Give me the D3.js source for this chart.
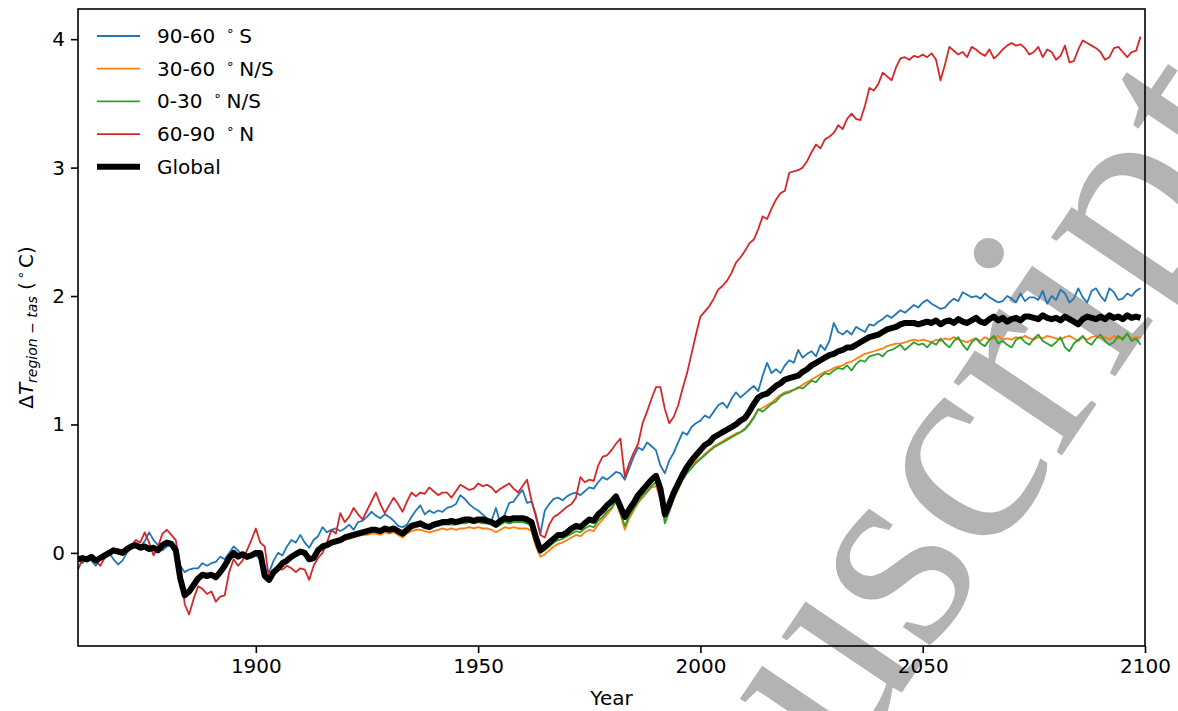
<!DOCTYPE html>
<html><head><meta charset="utf-8">
<script src="https://cdn.jsdelivr.net/npm/d3@7"></script>
<style>body{margin:0;background:#fff}</style>
</head><body><svg id="c" width="1178" height="711"></svg>
<script>
const startYear = 1860;
const seriesNames = ["90-60 °S", "30-60 °N/S", "0-30 °N/S", "60-90 °N", "Global"];
const legendMain = ["90-60", "30-60", "0-30", "60-90", "Global"];
const legendSuffix = ["S", "N/S", "N/S", "N", ""];
const xTicks = [1900, 1950, 2000, 2050, 2100];
const yTicks = [0, 1, 2, 3, 4];

const south = [
-0.05,-0.08,-0.04,-0.06,-0.10,-0.05,-0.02,0.00,-0.05,-0.09,
-0.06,0.00,0.04,0.07,0.05,0.09,0.16,0.10,0.06,0.02,
0.05,0.06,0.00,-0.10,-0.15,-0.13,-0.12,-0.12,-0.08,-0.10,
-0.08,-0.07,-0.03,-0.05,0.00,0.05,0.02,-0.03,-0.05,-0.02,
-0.02,-0.05,-0.12,-0.15,-0.06,0.00,-0.02,0.05,0.10,0.08,
0.14,0.08,0.04,0.10,0.13,0.20,0.16,0.18,0.19,0.17,
0.19,0.22,0.18,0.24,0.25,0.28,0.32,0.29,0.27,0.30,
0.28,0.25,0.21,0.20,0.22,0.28,0.33,0.37,0.30,0.33,
0.31,0.33,0.32,0.35,0.36,0.38,0.45,0.42,0.38,0.35,
0.33,0.30,0.27,0.25,0.35,0.23,0.30,0.39,0.40,0.45,
0.49,0.39,0.40,0.30,0.15,0.33,0.38,0.42,0.43,0.41,
0.44,0.46,0.47,0.45,0.48,0.51,0.50,0.55,0.59,0.57,
0.60,0.63,0.62,0.57,0.66,0.75,0.82,0.80,0.86,0.83,
0.80,0.68,0.62,0.72,0.78,0.86,0.94,0.92,0.98,1.01,
1.03,1.07,1.05,1.10,1.15,1.17,1.13,1.20,1.25,1.21,
1.24,1.27,1.30,1.26,1.38,1.48,1.40,1.43,1.40,1.46,
1.50,1.48,1.58,1.52,1.55,1.57,1.53,1.62,1.58,1.65,
1.79,1.72,1.70,1.73,1.70,1.76,1.74,1.72,1.78,1.77,
1.80,1.82,1.85,1.83,1.86,1.89,1.87,1.90,1.93,1.91,
1.95,1.97,1.94,1.92,1.90,1.91,1.95,1.98,1.96,2.03,
2.01,1.99,2.00,1.98,2.02,1.99,1.97,1.95,1.96,2.00,
1.98,1.95,2.02,1.96,1.99,1.99,1.97,2.04,1.94,2.00,
1.97,2.05,2.02,1.95,1.98,2.06,1.99,1.95,2.04,2.06,
2.00,1.96,2.06,2.03,1.97,1.98,2.02,2.00,2.04,2.06];

const midLat = [
-0.06,-0.05,-0.07,-0.04,-0.06,-0.05,-0.03,-0.01,0.01,0.00,
0.00,0.02,0.04,0.05,0.04,0.05,0.03,0.04,0.03,0.05,
0.07,0.06,0.01,-0.20,-0.32,-0.29,-0.24,-0.19,-0.17,-0.18,
-0.17,-0.18,-0.15,-0.10,-0.05,-0.01,-0.03,-0.02,-0.03,-0.02,
-0.01,-0.01,-0.18,-0.22,-0.16,-0.12,-0.09,-0.07,-0.04,-0.02,
0.00,-0.01,-0.06,-0.05,0.01,0.04,0.05,0.07,0.08,0.09,
0.10,0.11,0.12,0.13,0.14,0.14,0.15,0.15,0.14,0.16,
0.15,0.16,0.14,0.12,0.15,0.17,0.18,0.18,0.17,0.16,
0.17,0.18,0.19,0.18,0.19,0.18,0.19,0.19,0.20,0.19,
0.20,0.19,0.19,0.18,0.16,0.18,0.20,0.19,0.20,0.19,
0.19,0.19,0.17,0.05,-0.03,-0.01,0.02,0.05,0.07,0.08,
0.10,0.12,0.14,0.13,0.16,0.18,0.17,0.22,0.26,0.30,
0.34,0.40,0.30,0.18,0.27,0.33,0.39,0.43,0.47,0.51,
0.52,0.42,0.26,0.33,0.42,0.49,0.57,0.63,0.68,0.71,
0.74,0.77,0.80,0.83,0.85,0.87,0.89,0.91,0.93,0.94,
0.97,1.01,1.06,1.11,1.13,1.15,1.17,1.20,1.23,1.25,
1.26,1.27,1.28,1.31,1.33,1.35,1.37,1.39,1.41,1.42,
1.44,1.45,1.46,1.48,1.49,1.51,1.53,1.55,1.56,1.57,
1.58,1.59,1.61,1.62,1.63,1.63,1.64,1.65,1.66,1.65,
1.66,1.65,1.64,1.66,1.65,1.67,1.66,1.68,1.66,1.65,
1.64,1.66,1.67,1.65,1.68,1.66,1.67,1.69,1.66,1.67,
1.66,1.68,1.67,1.69,1.67,1.66,1.68,1.67,1.69,1.68,
1.67,1.66,1.68,1.69,1.67,1.65,1.68,1.66,1.68,1.69,
1.67,1.68,1.66,1.69,1.67,1.68,1.70,1.67,1.68,1.68];

const tropics = [
-0.05,-0.05,-0.06,-0.04,-0.05,-0.04,-0.03,0.00,0.01,0.01,
0.01,0.03,0.04,0.05,0.05,0.05,0.04,0.04,0.03,0.05,
0.07,0.06,0.02,-0.19,-0.31,-0.29,-0.24,-0.19,-0.17,-0.17,
-0.16,-0.18,-0.14,-0.10,-0.05,0.00,-0.02,-0.01,-0.02,-0.01,
0.00,0.00,-0.17,-0.21,-0.15,-0.11,-0.08,-0.06,-0.03,-0.01,
0.01,0.00,-0.05,-0.04,0.02,0.05,0.06,0.08,0.09,0.10,
0.11,0.12,0.13,0.14,0.15,0.16,0.17,0.17,0.16,0.18,
0.17,0.18,0.16,0.14,0.17,0.19,0.20,0.21,0.20,0.19,
0.20,0.21,0.22,0.22,0.22,0.22,0.23,0.23,0.24,0.23,
0.24,0.23,0.23,0.22,0.20,0.22,0.24,0.23,0.24,0.24,
0.24,0.23,0.21,0.09,0.00,0.02,0.05,0.08,0.10,0.11,
0.13,0.15,0.17,0.16,0.19,0.21,0.20,0.25,0.28,0.32,
0.35,0.40,0.31,0.21,0.29,0.35,0.40,0.45,0.48,0.52,
0.55,0.45,0.23,0.32,0.42,0.50,0.57,0.62,0.66,0.70,
0.73,0.76,0.79,0.82,0.84,0.86,0.88,0.90,0.92,0.94,
0.96,1.00,1.05,1.12,1.10,1.13,1.16,1.18,1.22,1.24,
1.25,1.27,1.29,1.28,1.31,1.34,1.33,1.37,1.40,1.39,
1.42,1.44,1.43,1.46,1.42,1.47,1.50,1.49,1.53,1.54,
1.55,1.53,1.57,1.58,1.60,1.62,1.58,1.61,1.64,1.62,
1.63,1.60,1.64,1.62,1.67,1.63,1.60,1.65,1.68,1.62,
1.58,1.64,1.67,1.63,1.61,1.66,1.69,1.63,1.65,1.62,
1.60,1.66,1.68,1.64,1.62,1.67,1.70,1.65,1.63,1.61,
1.64,1.68,1.60,1.57,1.63,1.66,1.69,1.64,1.62,1.67,
1.70,1.65,1.62,1.64,1.69,1.66,1.71,1.65,1.67,1.62];

const arctic = [
-0.13,-0.05,-0.04,-0.03,-0.06,-0.10,-0.04,-0.02,0.01,0.03,
0.02,0.04,0.06,0.10,0.08,0.16,0.08,-0.02,0.05,0.15,
0.18,0.14,0.10,-0.10,-0.40,-0.48,-0.36,-0.26,-0.28,-0.32,
-0.30,-0.38,-0.34,-0.33,-0.15,-0.05,-0.10,-0.06,0.02,0.10,
0.19,0.08,0.05,-0.22,-0.15,-0.12,-0.13,-0.10,-0.12,-0.15,
-0.12,-0.13,-0.21,-0.10,-0.04,0.00,0.08,0.18,0.15,0.31,
0.24,0.28,0.35,0.30,0.26,0.33,0.40,0.47,0.38,0.31,
0.37,0.43,0.38,0.32,0.40,0.47,0.44,0.47,0.46,0.51,
0.48,0.45,0.47,0.47,0.43,0.48,0.53,0.51,0.49,0.50,
0.54,0.52,0.53,0.51,0.47,0.50,0.52,0.54,0.50,0.47,
0.52,0.57,0.41,0.28,0.14,0.12,0.22,0.28,0.30,0.33,
0.36,0.38,0.43,0.59,0.55,0.57,0.56,0.68,0.75,0.76,
0.80,0.85,0.89,0.59,0.70,0.78,0.85,1.01,1.10,1.20,
1.29,1.29,1.12,1.01,1.06,1.15,1.28,1.40,1.55,1.70,
1.84,1.88,1.92,1.98,2.05,2.08,2.12,2.18,2.26,2.30,
2.35,2.41,2.44,2.52,2.62,2.60,2.68,2.75,2.80,2.82,
2.96,2.97,2.98,3.00,3.05,3.12,3.18,3.15,3.22,3.24,
3.27,3.33,3.30,3.38,3.42,3.38,3.37,3.48,3.62,3.60,
3.65,3.74,3.71,3.68,3.78,3.85,3.86,3.84,3.87,3.86,
3.88,3.86,3.89,3.84,3.68,3.80,3.94,3.91,3.88,3.90,
3.86,3.94,3.92,3.89,3.87,3.92,3.85,3.88,3.92,3.95,
3.97,3.95,3.96,3.93,3.88,3.90,3.94,3.86,3.92,3.90,
3.84,3.87,3.95,3.82,3.83,3.92,3.99,3.97,3.95,3.93,
3.90,3.84,3.86,3.93,3.94,3.90,3.86,3.90,3.91,4.02];

const globalMean = [
-0.05,-0.04,-0.05,-0.03,-0.06,-0.04,-0.02,0.00,0.02,0.01,
0.00,0.03,0.05,0.06,0.04,0.05,0.03,0.04,0.02,0.06,
0.08,0.07,0.02,-0.20,-0.33,-0.30,-0.25,-0.20,-0.17,-0.18,
-0.17,-0.19,-0.15,-0.10,-0.04,0.00,-0.03,-0.01,-0.03,-0.02,
0.00,0.00,-0.18,-0.21,-0.15,-0.12,-0.08,-0.06,-0.03,-0.01,
0.01,0.00,-0.05,-0.04,0.02,0.05,0.06,0.08,0.09,0.10,
0.12,0.13,0.14,0.15,0.16,0.17,0.18,0.18,0.17,0.19,
0.18,0.19,0.17,0.15,0.18,0.21,0.22,0.23,0.21,0.20,
0.22,0.23,0.24,0.24,0.25,0.24,0.25,0.26,0.26,0.25,
0.26,0.26,0.25,0.24,0.22,0.25,0.27,0.26,0.27,0.27,
0.27,0.26,0.24,0.12,0.02,0.05,0.08,0.11,0.14,0.14,
0.16,0.19,0.21,0.20,0.23,0.26,0.25,0.30,0.33,0.37,
0.40,0.44,0.36,0.28,0.34,0.39,0.45,0.49,0.53,0.57,
0.60,0.50,0.30,0.38,0.47,0.54,0.61,0.67,0.72,0.76,
0.80,0.84,0.86,0.90,0.92,0.94,0.96,0.98,1.00,1.03,
1.05,1.10,1.16,1.21,1.23,1.24,1.27,1.30,1.32,1.35,
1.36,1.37,1.38,1.41,1.43,1.46,1.48,1.50,1.52,1.54,
1.55,1.57,1.58,1.60,1.60,1.62,1.64,1.66,1.68,1.69,
1.70,1.72,1.74,1.75,1.76,1.78,1.79,1.79,1.79,1.78,
1.79,1.80,1.79,1.81,1.78,1.80,1.81,1.79,1.82,1.80,
1.79,1.81,1.83,1.80,1.79,1.82,1.84,1.81,1.83,1.80,
1.82,1.83,1.81,1.84,1.84,1.83,1.82,1.85,1.83,1.82,
1.83,1.81,1.84,1.82,1.80,1.78,1.82,1.84,1.83,1.82,
1.84,1.82,1.85,1.83,1.84,1.82,1.85,1.83,1.84,1.83];

const allSeries = [south, midLat, tropics, arctic, globalMean];
const colors = ["#1f77b4", "#ff7f0e", "#2ca02c", "#d62728", "#000000"];
const widths = [1.8, 1.8, 1.8, 1.8, 6];

const svg = d3.select("#c");
const L = 78, R = 1145, T = 9, B = 646;
const x = d3.scaleLinear().domain([1860, 2100]).range([L, R]);
const y = d3.scaleLinear().domain([-0.725, 4.235]).range([B, T]);
const FONT = "DejaVu Sans, sans-serif";

svg.append("rect").attr("width", 1178).attr("height", 711).attr("fill", "#fff");

// watermark (beneath the data)
svg.append("text")
  .attr("transform", "translate(1280,132) rotate(-56)")
  .attr("text-anchor", "end")
  .attr("font-family", "Liberation Serif, serif")
  .attr("font-size", 285)
  .attr("fill", "#b3b3b3")
  .text("Accepted Manuscript");

svg.append("clipPath").attr("id", "clip").append("rect")
  .attr("x", L).attr("y", T).attr("width", R - L).attr("height", B - T);

const line = d3.line().x((d, i) => x(startYear + i)).y(d => y(d)).curve(d3.curveLinear);
const g = svg.append("g").attr("clip-path", "url(#clip)");
allSeries.forEach((s, k) => {
  g.append("path").datum(s).attr("d", line)
    .attr("fill", "none").attr("stroke", colors[k]).attr("stroke-width", widths[k])
    .attr("stroke-linejoin", "round").attr("stroke-linecap", "butt");
});

// axes
const xAxis = svg.append("g").attr("transform", `translate(0,${B})`)
  .call(d3.axisBottom(x).tickValues(xTicks).tickFormat(d3.format("d")).tickSize(7).tickPadding(6));
const yAxis = svg.append("g").attr("transform", `translate(${L},0)`)
  .call(d3.axisLeft(y).tickValues(yTicks).tickFormat(d3.format("d")).tickSize(7).tickPadding(6));
[xAxis, yAxis].forEach(a => {
  a.select(".domain").remove();
  a.selectAll(".tick line").attr("stroke", "#000").attr("stroke-width", 1.6);
  a.selectAll(".tick text").attr("font-family", FONT).attr("font-size", 20).attr("fill", "#000");
});

svg.append("rect").attr("x", L).attr("y", T).attr("width", R - L).attr("height", B - T)
  .attr("fill", "none").attr("stroke", "#000").attr("stroke-width", 1.6);

// axis labels
svg.append("text").attr("x", (L + R) / 2).attr("y", 705).attr("text-anchor", "middle")
  .attr("font-family", FONT).attr("font-size", 20).attr("fill", "#000").text("Year");

const yl = svg.append("text").attr("transform", `translate(33,${(T + B) / 2}) rotate(-90)`)
  .attr("text-anchor", "middle").attr("font-family", FONT).attr("font-size", 20).attr("fill", "#000");
yl.append("tspan").text("Δ");
yl.append("tspan").attr("font-style", "italic").text("T");
yl.append("tspan").attr("font-style", "italic").attr("font-size", 14).attr("dy", 4).text("region");
yl.append("tspan").attr("font-size", 14).text(" − ");
yl.append("tspan").attr("font-style", "italic").attr("font-size", 14).text("tas");
yl.append("tspan").attr("dy", -4).text(" (");
yl.append("tspan").attr("font-size", 13).attr("dy", -8).attr("dx", 3).text("∘");
yl.append("tspan").attr("dy", 8).attr("dx", 3).text("C)");

// legend
const lg = svg.append("g");
seriesNames.forEach((nm, i) => {
  const cy = 36 + i * 32.7;
  lg.append("line").attr("x1", 97).attr("x2", 140).attr("y1", cy).attr("y2", cy)
    .attr("stroke", colors[i]).attr("stroke-width", i === 4 ? 6 : 1.8);
  const t = lg.append("text").attr("x", 157).attr("y", cy + 7)
    .attr("font-family", FONT).attr("font-size", 20).attr("fill", "#000");
  t.append("tspan").text(legendMain[i]);
  if (legendSuffix[i]) {
    t.append("tspan").attr("font-size", 13).attr("dx", 11).attr("dy", -8).text("∘");
    t.append("tspan").attr("dx", 5).attr("dy", 8).text(legendSuffix[i]);
  }
});
</script>
</body></html>
